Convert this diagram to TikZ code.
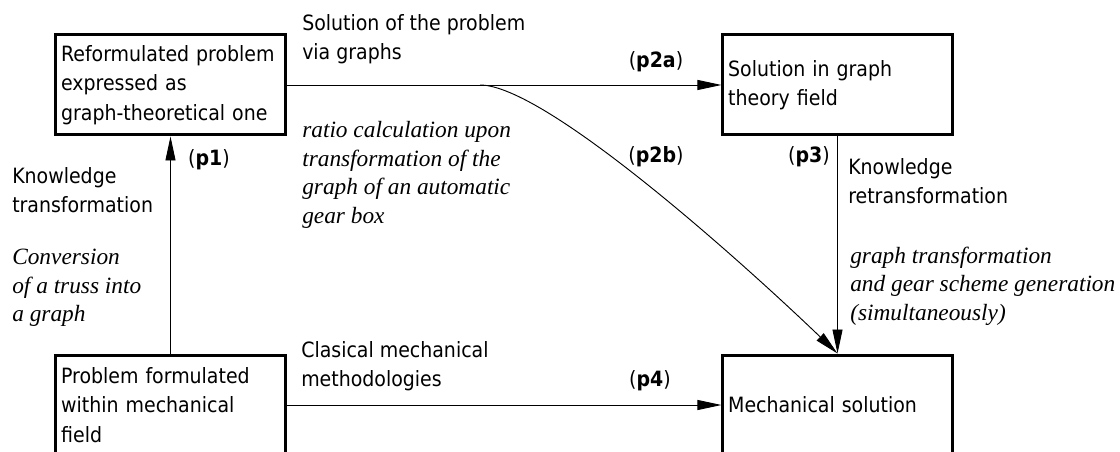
\documentclass[tikz,border=0pt]{standalone}
\usepackage{fontspec}
\setmainfont{DejaVu Sans Condensed}
\newfontfamily\notefont{Liberation Serif}
\usetikzlibrary{arrows.meta}

\begin{document}
\begin{tikzpicture}[
    x=0.75pt, y=-0.75pt,
    box/.style={
        rectangle,draw,line width=2.25pt,
        minimum width=171.75pt,
        minimum height=75pt,
        text width=164pt, inner xsep=3.9pt,
        align=left,
        font=\fontsize{15.8}{22}\selectfont
    },
    lbl/.style={inner sep=0pt,align=left,font=\fontsize{15.8}{21.75}\selectfont},
    note/.style={inner sep=0pt,align=left,font=\notefont\itshape\fontsize{17.5}{21.5}\selectfont},
    arrow/.style={-{Triangle[length=18pt,width=7.5pt]},line width=0.7pt}
]
\useasboundingbox (0,0) rectangle (1120,452);

\node[box] (reform) at (170.5,85) {Reformulated problem\\expressed as\\graph-theoretical one};
\node[box] (graphsol) at (837.5,85) {Solution in graph\\theory field};
\node[box] (mechprob) at (170.5,405) {Problem formulated\\within mechanical\\field};
\node[box] (mechsol) at (837.5,405) {Mechanical solution};

\coordinate (fork) at (480,85);

\draw[arrow] (mechprob) -- (reform);
\draw[arrow] (reform) -- (graphsol);
\draw[arrow] (fork) .. controls (545,85) and (740,260) .. (mechsol.north);
\draw[arrow] (graphsol) -- (mechsol);
\draw[arrow] (mechprob) -- (mechsol);

\node[lbl,anchor=west] (solvia) at (302,39) {Solution of the problem\\via graphs};
\node[lbl] (p2a) at (656,62) {(\textbf{p2a})};
\node[lbl] (p2b) at (656,157) {(\textbf{p2b})};
\node[lbl] (p3) at (809,157) {(\textbf{p3})};
\node[lbl,anchor=west] (retrans) at (848,181) {Knowledge\\retransformation};
\node[note,anchor=west] (gtrans) at (850,286) {graph transformation\\and gear scheme generation\\(simultaneously)};
\node[lbl] (p1) at (209,160) {(\textbf{p1})};
\node[lbl,anchor=west] (ktrans) at (12,190) {Knowledge\\transformation};
\node[note,anchor=west] (ratio) at (302,175) {ratio calculation upon\\transformation of the\\graph of an automatic\\gear box};
\node[note,anchor=west] (truss) at (12,288) {Conversion\\of a truss into\\a graph};
\node[lbl,anchor=west] (clasical) at (301,366) {Clasical mechanical\\methodologies};
\node[lbl] (p4) at (650,381) {(\textbf{p4})};
\end{tikzpicture}
\end{document}
